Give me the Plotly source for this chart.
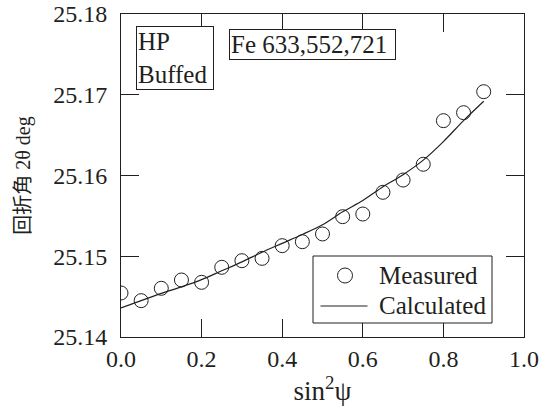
import plotly.graph_objects as go

# sin^2(psi) positions of the measurements
sin2psi = [0.00, 0.05, 0.10, 0.15, 0.20, 0.25, 0.30, 0.35, 0.40, 0.45,
           0.50, 0.55, 0.60, 0.65, 0.70, 0.75, 0.80, 0.85, 0.90]

# measured diffraction angle 2theta (deg)
measured = [25.14545, 25.14450, 25.14603, 25.14706, 25.14677, 25.14863,
            25.14945, 25.14974, 25.15131, 25.15180, 25.15276, 25.15490,
            25.15523, 25.15792, 25.15944, 25.16139, 25.16679, 25.16778,
            25.17038]

# calculated curve (deg)
calculated = [25.1436, 25.1445, 25.1454, 25.1462, 25.1471, 25.1482,
              25.1493, 25.1505, 25.1516, 25.1527, 25.1539, 25.1555,
              25.1569, 25.1586, 25.1601, 25.1619, 25.1642, 25.1668,
              25.1692]

x_ticks = [0.0, 0.2, 0.4, 0.6, 0.8, 1.0]
y_ticks = [25.14, 25.15, 25.16, 25.17, 25.18]

INK = "#231f20"
SERIF = "Liberation Serif"

# plot-area geometry in pixels (used to place the key and the boxed labels)
W, H = 540, 413
ML, MR, MT, MB = 121, 16, 14, 76
PW, PH = W - ML - MR, H - MT - MB


def px(xp):
    return (xp - ML) / PW


def py(yp):
    return (H - MB - yp) / PH


fig = go.Figure()
fig.add_trace(go.Scatter(
    x=sin2psi, y=measured, mode="markers", name="Measured",
    marker=dict(symbol="circle-open", size=14, color=INK, line=dict(width=1, color=INK)),
))
fig.add_trace(go.Scatter(
    x=sin2psi, y=calculated, mode="lines", name="Calculated",
    line=dict(color=INK, width=1.2, shape="spline", smoothing=0.8),
))

axis_common = dict(
    showgrid=False, zeroline=False, showline=True, linecolor=INK, linewidth=1,
    mirror="allticks", ticks="inside", ticklen=18, tickwidth=1, tickcolor=INK,
    tickfont=dict(family=SERIF, size=24, color=INK), automargin=False,
)

fig.update_layout(
    width=W, height=H,
    margin=dict(l=ML, r=MR, t=MT, b=MB),
    paper_bgcolor="white", plot_bgcolor="white",
    font=dict(family=SERIF, color=INK),
    showlegend=False,
    xaxis=dict(
        range=[0, 1], tickvals=x_ticks, ticktext=[f"{v:.1f}" for v in x_ticks],
        title=dict(text="sin<sup>2</sup>ψ", font=dict(family=SERIF, size=27, color=INK), standoff=6),
        **axis_common,
    ),
    yaxis=dict(
        range=[25.14, 25.18], tickvals=y_ticks, ticktext=[f"{v:.2f}" for v in y_ticks],
        ticklabelstandoff=8,
        title=dict(
            text='<span style="font-family:Noto Sans CJK JP">回折角</span> 2θ deg',
            font=dict(family=SERIF, size=20, color=INK), standoff=17,
        ),
        **axis_common,
    ),
)

# boxed labels
fig.add_annotation(
    xref="paper", yref="paper", x=px(136), y=py(26), xanchor="left", yanchor="top",
    text="HP<br>Buffed", showarrow=False, align="left", width=74,
    font=dict(family=SERIF, size=25, color=INK),
    bordercolor=INK, borderwidth=1, borderpad=1, bgcolor="white",
)
fig.add_annotation(
    xref="paper", yref="paper", x=px(229), y=py(29), xanchor="left", yanchor="top",
    text="Fe 633,552,721", showarrow=False, align="left", width=163,
    font=dict(family=SERIF, size=25, color=INK),
    bordercolor=INK, borderwidth=1, borderpad=1, bgcolor="white",
)

# key: framed box with a circle sample and a line sample
fig.add_shape(type="rect", xref="paper", yref="paper",
              x0=px(313), x1=px(492), y0=py(323), y1=py(256),
              line=dict(color=INK, width=1), fillcolor="white", layer="above")
fig.add_shape(type="circle", xref="paper", yref="paper",
              xsizemode="pixel", ysizemode="pixel",
              xanchor=px(345), yanchor=py(275.5), x0=-7.5, x1=7.5, y0=-7.5, y1=7.5,
              line=dict(color=INK, width=1), layer="above")
fig.add_shape(type="line", xref="paper", yref="paper",
              x0=px(320.5), x1=px(367.5), y0=py(306), y1=py(306),
              line=dict(color=INK, width=1.2), layer="above")
for name, yc in (("Measured", 275.5), ("Calculated", 305.5)):
    fig.add_annotation(
        xref="paper", yref="paper", x=px(377), y=py(yc), xanchor="left", yanchor="middle",
        text=name, showarrow=False, align="left",
        font=dict(family=SERIF, size=25, color=INK),
    )

fig.write_html("out.html")
